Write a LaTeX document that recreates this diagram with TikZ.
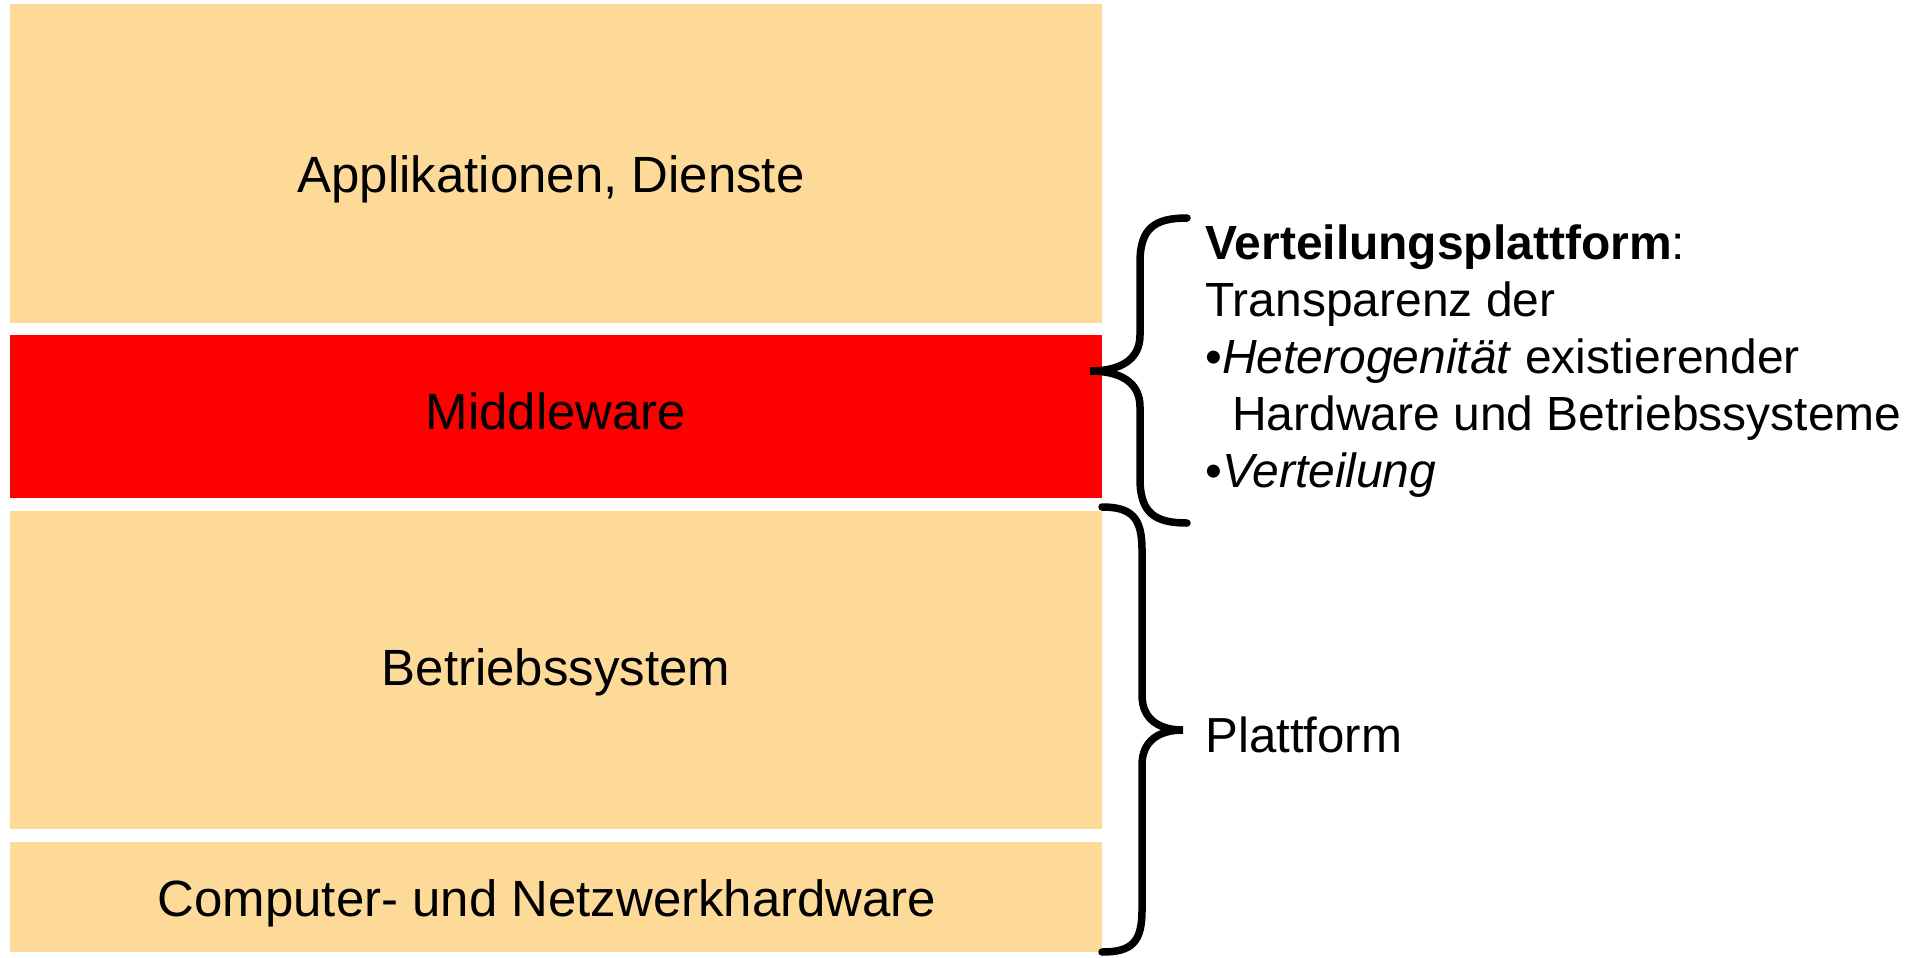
\documentclass[tikz,border=0pt]{standalone}
\usepackage{fontspec}
\setmainfont{Liberation Sans}
\usepackage{tikz}
\definecolor{Schicht}{RGB}{254,218,153}
\definecolor{Mitte}{RGB}{255,0,0}
\tikzstyle{Brace}=[line width=0.15cm, line cap=round]
\tikzstyle{Text}=[font=\fontsize{28}{32.4}\selectfont, text=black, inner sep=0pt]
\tikzstyle{Layer}=[font=\fontsize{29}{32.4}\selectfont]

\begin{document}
\begin{tikzpicture}[x=0.02cm, y=-0.02cm, every node/.style=Text]

\useasboundingbox (0,0) rectangle (1923,957);

\fill[Schicht] (10,4) rectangle (1102,323) node[Layer, midway, xshift=-0.1cm, yshift=-0.32cm] (app) {Applikationen, Dienste};
\fill[Mitte] (10,335) rectangle (1102,498) node[Layer, midway, yshift=0.1cm] (mw) {Middleware};
\fill[Schicht] (10,511) rectangle (1102,829) node[Layer, midway, yshift=-0.05cm] (bs) {Betriebssystem};
\fill[Schicht] (10,842) rectangle (1102,952) node[Layer, midway, xshift=-0.18cm, yshift=-0.12cm] (hw) {Computer- und Netzwerkhardware};

% Verteilungsplattform
\coordinate (vtop) at (1187,218);
\coordinate (vtip) at (1090,371);
\coordinate (vbot) at (1187,523);
\draw[Brace] (vtop) .. controls (1155,218) and (1140,228) .. (1140,262) -- (1140,335)
  .. controls (1140,360) and (1120,371) .. (vtip)
  .. controls (1120,371) and (1140,382) .. (1140,407) -- (1140,479)
  .. controls (1140,513) and (1155,523) .. (vbot);

% Plattform
\coordinate (ptop) at (1102,507);
\coordinate (ptip) at (1183,730);
\coordinate (pbot) at (1102,952);
\draw[Brace] (ptop) .. controls (1132,507) and (1142,518) .. (1142,550) -- (1142,695)
  .. controls (1142,720) and (1160,730) .. (ptip)
  .. controls (1160,730) and (1142,740) .. (1142,765) -- (1142,910)
  .. controls (1142,942) and (1132,952) .. (pbot);

\node[anchor=base west, align=left, font=\fontsize{27.3}{32.4}\selectfont] (vtext) at (1205,487) {\textbf{Verteilungsplattform}:\\Transparenz der\\•\textit{Heterogenität} existierender\\\hspace*{0.54cm}Hardware und Betriebssysteme\\•\textit{Verteilung}};
\node[anchor=base west] (ptext) at (1205,752) {Plattform};

\end{tikzpicture}
\end{document}
